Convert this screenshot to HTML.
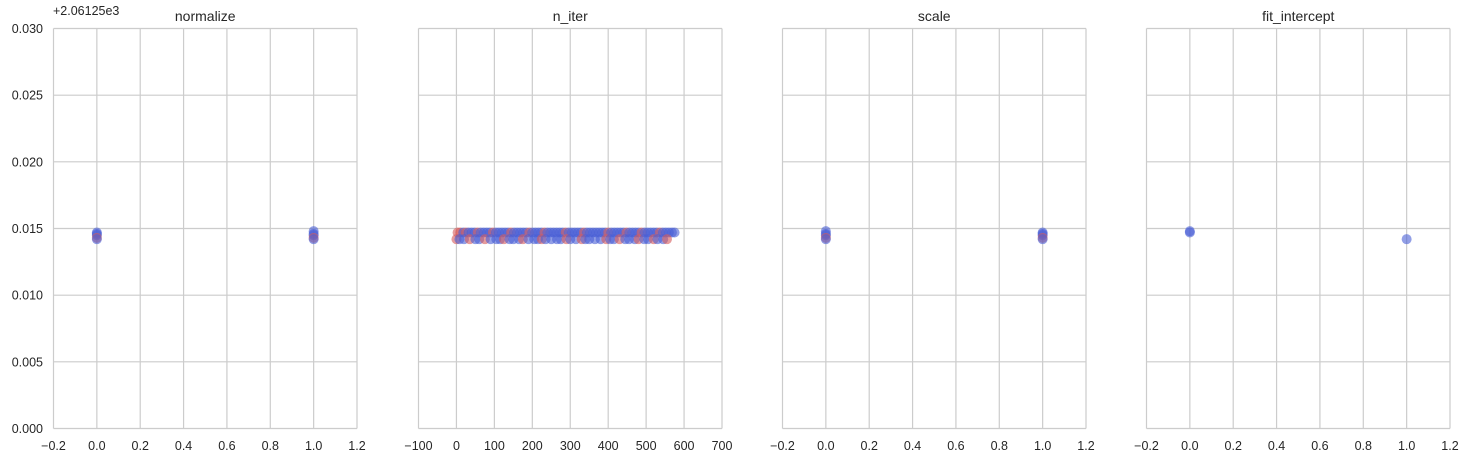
<!DOCTYPE html>
<html><head><meta charset="utf-8">
<style>
body{margin:0;background:#fff;font-family:"Liberation Sans",sans-serif;}
svg text{font-family:"Liberation Sans",sans-serif;fill:#262626;}
</style></head>
<body>
<svg id="chart" width="1467" height="462" xmlns="http://www.w3.org/2000/svg"></svg>
<script>
const panelTitles=["normalize","n_iter","scale","fit_intercept"];
const xTicks=[[-0.2,0,0.2,0.4,0.6,0.8,1.0,1.2],[-100,0,100,200,300,400,500,600,700],[-0.2,0,0.2,0.4,0.6,0.8,1.0,1.2],[-0.2,0,0.2,0.4,0.6,0.8,1.0,1.2]];
const xTickLabels=[["−0.2","0.0","0.2","0.4","0.6","0.8","1.0","1.2"],["−100","0","100","200","300","400","500","600","700"],["−0.2","0.0","0.2","0.4","0.6","0.8","1.0","1.2"],["−0.2","0.0","0.2","0.4","0.6","0.8","1.0","1.2"]];
const yTicks=[0,0.005,0.010,0.015,0.020,0.025,0.030];
const yTickLabels=["0.000","0.005","0.010","0.015","0.020","0.025","0.030"];
const normalizeX=[0,0,0,0,0,1,1,1,1,1];
const normalizeY=[0.0147,0.0146,0.0145,0.0143,0.0142,0.0148,0.0146,0.0145,0.0143,0.0142];
const normalizeC=[0,0,0,1,0,0,0,0,1,0];
const nIterUpperX=[3,10,18,25,32,40,48,56,64,72,80,88,96,104,112,120,128,136,144,152,160,168,176,184,192,200,208,216,224,232,240,248,256,264,272,280,288,296,304,312,320,328,336,344,352,360,368,376,384,392,400,408,416,424,432,440,448,456,464,472,480,488,496,504,512,520,528,536,544,552,560,568,575];
const nIterLowerX=[0,8,20,35,50,60,75,90,105,115,125,140,150,165,175,190,205,215,225,235,250,265,275,290,300,315,330,340,350,365,380,395,405,415,430,445,455,470,480,495,505,520,530,545,555];
const nIterUpperY=0.0147;
const nIterLowerY=0.0142;
const nIterUpperC=[1,1,0,1,0,0,0,1,0,0,0,0,1,0,0,0,0,0,1,0,0,0,0,0,1,0,0,0,0,1,0,0,0,0,0,0,1,0,0,0,0,0,1,0,0,0,0,0,0,0,1,0,0,0,0,0,1,0,0,0,0,1,0,0,0,0,0,1,0,0,0,0,0];
const nIterLowerC=[1,0,0,1,0,0,1,0,0,0,1,0,0,0,1,0,0,0,1,0,0,0,0,1,0,0,1,0,0,0,0,1,0,0,1,0,0,0,1,0,0,1,0,0,1];
const scaleX=[0,0,0,0,0,1,1,1,1,1];
const scaleY=[0.0148,0.0146,0.0145,0.0143,0.0142,0.0147,0.0146,0.0145,0.0143,0.0142];
const scaleC=[0,0,0,1,0,0,0,0,1,0];
const fitX=[0,0,1];
const fitY=[0.0148,0.0147,0.0142];
const fitC=[0,0,0];

const nIterX=nIterUpperX.concat(nIterLowerX);
const nIterY=nIterUpperX.map(()=>nIterUpperY).concat(nIterLowerX.map(()=>nIterLowerY));
const nIterC=nIterUpperC.concat(nIterLowerC);
const seriesX=[normalizeX,nIterX,scaleX,fitX];
const seriesY=[normalizeY,nIterY,scaleY,fitY];
const seriesC=[normalizeC,nIterC,scaleC,fitC];

const NS="http://www.w3.org/2000/svg";
const svg=document.getElementById('chart');
const lefts=[53.5,418.5,782.5,1146.5], W=303.5, plotTop=28.5, plotBottom=428.5;
const colors=["#4a5fd6","#d65a5a"];
function mk(tag,attrs,parent){const e=document.createElementNS(NS,tag);for(const k in attrs)e.setAttribute(k,attrs[k]);(parent||svg).appendChild(e);return e;}
for(let p=0;p<4;p++){
  const L=lefts[p], xt=xTicks[p], x0=xt[0], x1=xt[xt.length-1];
  const sx=v=>L+(v-x0)/(x1-x0)*W;
  const sy=v=>plotBottom-(v-0)/(0.03)*(plotBottom-plotTop);
  const g=mk('g',{});
  
  
  xt.forEach((v,i)=>{
    const l=mk('line',{x1:sx(v),x2:sx(v),y1:plotTop,y2:plotBottom,stroke:'#cccccc','stroke-width':1.2},g);
    
    
    const t=mk('text',{x:sx(v),y:450,'text-anchor':'middle','font-size':12.5},g);
    t.textContent=xTickLabels[p][i];
    
    
  });
  yTicks.forEach((v,i)=>{
    const l=mk('line',{x1:L,x2:L+W,y1:sy(v),y2:sy(v),stroke:'#cccccc','stroke-width':1.2},g);
    
    
    if(p===0){
      const t=mk('text',{x:43,y:sy(v)+4.5,'text-anchor':'end','font-size':12.5},g);
      t.textContent=yTickLabels[i];
      
      
    }
  });
  const tt=mk('text',{x:L+W/2,y:21,'text-anchor':'middle','font-size':14},g);
  tt.textContent=panelTitles[p];
  
  
  const xs=seriesX[p], ys=seriesY[p], cs=seriesC[p];
  for(let i=0;i<xs.length;i++){
    const c=mk('circle',{cx:sx(xs[i]),cy:sy(ys[i]),r:5,fill:colors[cs[i]],'fill-opacity':0.6},g);
    
    
  }
}
const off=mk('text',{x:53,y:15,'font-size':12.5});
off.textContent="+2.06125e3";


</script>
</body></html>
